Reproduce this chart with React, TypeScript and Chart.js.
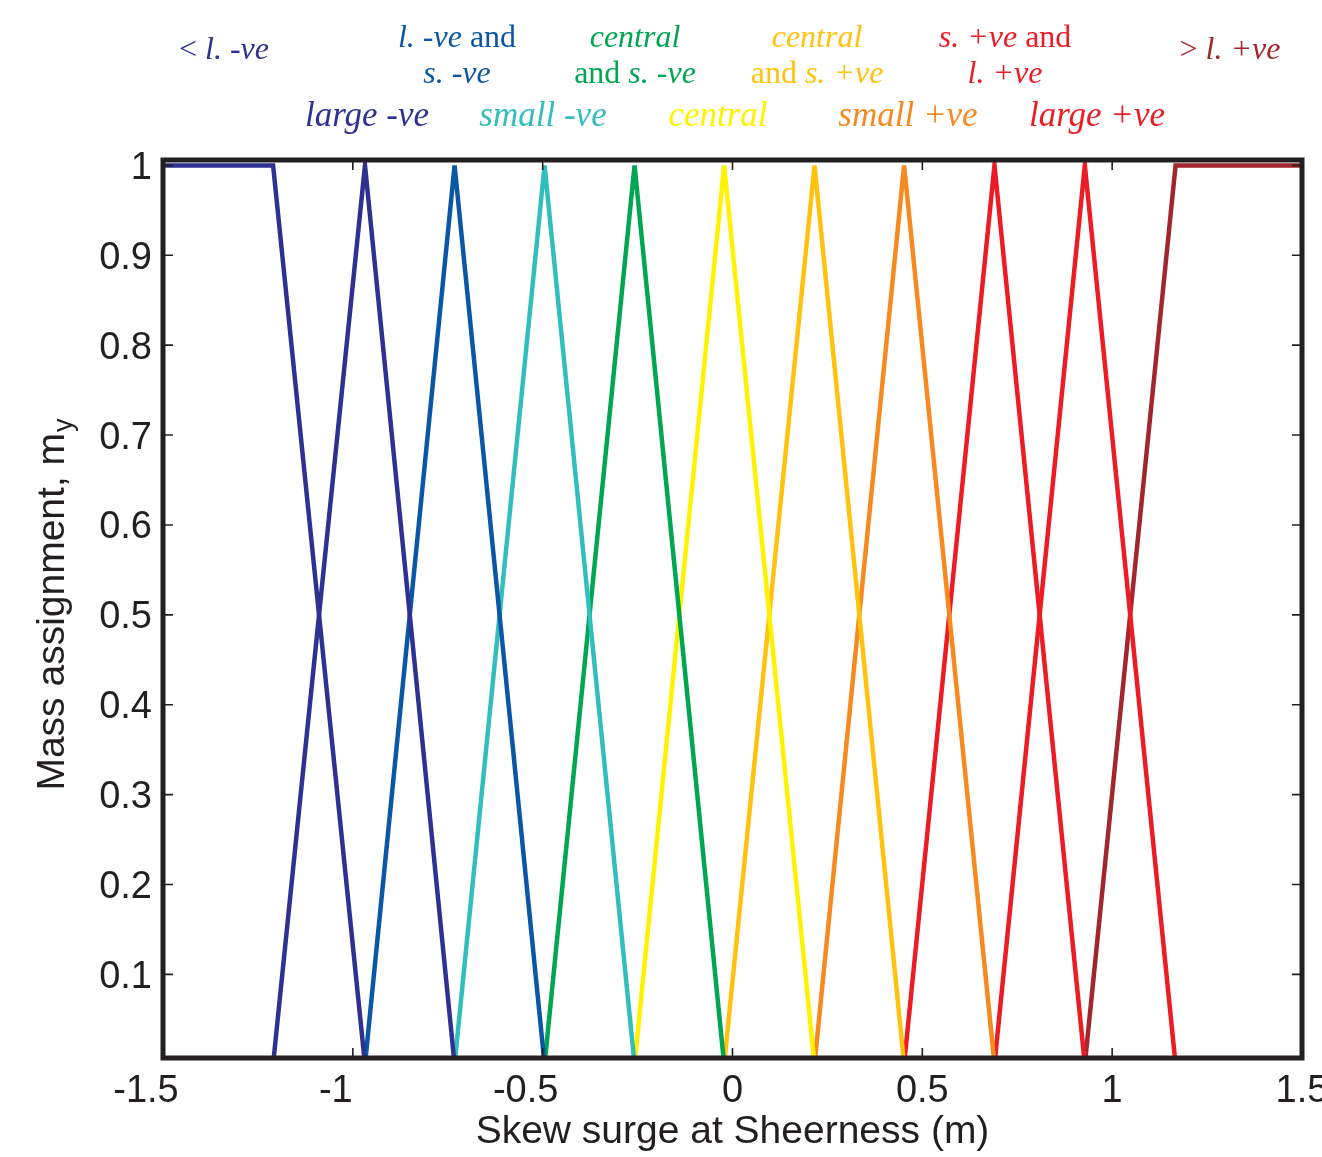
import React, { useEffect, useRef } from "react";
import { Chart, registerables } from "chart.js";

Chart.register(...registerables);

// Fuzzy sets for skew surge at Sheerness (m)
const setNames = [
  "< l. -ve",
  "large -ve",
  "l. -ve and s. -ve",
  "small -ve",
  "central and s. -ve",
  "central",
  "central and s. +ve",
  "small +ve",
  "s. +ve and l. +ve",
  "large +ve",
  "> l. +ve",
];

const setColors = [
  "#2E3192",
  "#2E3192",
  "#0B57A6",
  "#33BEBE",
  "#00A651",
  "#FFF200",
  "#FFC20E",
  "#F6891F",
  "#ED1C24",
  "#ED1C24",
  "#A1262D",
];

// Surge values (m) at which successive sets reach full membership
const breakpoints = [-1.21, -0.968, -0.732, -0.495, -0.258, -0.022, 0.216, 0.452, 0.69, 0.928, 1.167];

const xLimits = [-1.5, 1.5];
const yLimits = [0.007, 1.006];
const xTicks = [-1.5, -1, -0.5, 0, 0.5, 1, 1.5];
const yTicks = [0.1, 0.2, 0.3, 0.4, 0.5, 0.6, 0.7, 0.8, 0.9, 1];

const xTitle = "Skew surge at Sheerness (m)";
const yTitle = "Mass assignment, m";
const yTitleSub = "y";

// Header captions: each line is a list of [text, italic] runs
type Run = [string, boolean];
const headerCaptions: { set: number; cx: number; baselines: number[]; size: number; lines: Run[][] }[] = [
  { set: 0, cx: 224, baselines: [59], size: 32, lines: [[["< ", false], ["l. -ve", true]]] },
  { set: 2, cx: 457, baselines: [47, 83], size: 32, lines: [[["l. -ve ", true], ["and", false]], [["s. -ve", true]]] },
  { set: 4, cx: 635, baselines: [47, 83], size: 32, lines: [[["central", true]], [["and ", false], ["s. -ve", true]]] },
  { set: 6, cx: 817, baselines: [47, 83], size: 32, lines: [[["central", true]], [["and ", false], ["s. +ve", true]]] },
  { set: 8, cx: 1005, baselines: [47, 83], size: 32, lines: [[["s. +ve ", true], ["and", false]], [["l. +ve", true]]] },
  { set: 10, cx: 1230, baselines: [59], size: 32, lines: [[["> ", false], ["l. +ve", true]]] },
  { set: 1, cx: 367, baselines: [126], size: 35, lines: [[["large -ve", true]]] },
  { set: 3, cx: 543, baselines: [126], size: 35, lines: [[["small -ve", true]]] },
  { set: 5, cx: 718, baselines: [126], size: 35, lines: [[["central", true]]] },
  { set: 7, cx: 908, baselines: [126], size: 35, lines: [[["small +ve", true]]] },
  { set: 9, cx: 1097, baselines: [126], size: 35, lines: [[["large +ve", true]]] },
];

const INK = "#231F20";
const AXIS_FONT = '38px "Liberation Sans", Arial, sans-serif';
const TITLE_FONT = '39px "Liberation Sans", Arial, sans-serif';

function membershipPoints(i: number) {
  const last = breakpoints.length - 1;
  if (i === 0) {
    return [
      { x: xLimits[0], y: 1 },
      { x: breakpoints[0], y: 1 },
      { x: breakpoints[1], y: 0 },
    ];
  }
  if (i === last) {
    return [
      { x: breakpoints[last - 1], y: 0 },
      { x: breakpoints[last], y: 1 },
      { x: xLimits[1], y: 1 },
    ];
  }
  return [
    { x: breakpoints[i - 1], y: 0 },
    { x: breakpoints[i], y: 1 },
    { x: breakpoints[i + 1], y: 0 },
  ];
}

const fmt = (v: number) => String(v);

const framePlugin = {
  id: "matlabFrame",
  afterDatasetsDraw(chart: any) {
    const { ctx, chartArea: a, scales } = chart;
    const xs = scales.x;
    const ys = scales.y;
    ctx.save();
    ctx.strokeStyle = INK;
    ctx.lineWidth = 1.6;
    const tl = 10;
    ctx.beginPath();
    for (const v of xTicks) {
      const px = xs.getPixelForValue(v);
      ctx.moveTo(px, a.bottom);
      ctx.lineTo(px, a.bottom - tl);
      ctx.moveTo(px, a.top);
      ctx.lineTo(px, a.top + tl);
    }
    for (const v of yTicks) {
      const py = ys.getPixelForValue(v);
      ctx.moveTo(a.left, py);
      ctx.lineTo(a.left + tl, py);
      ctx.moveTo(a.right, py);
      ctx.lineTo(a.right - tl, py);
    }
    ctx.stroke();
    ctx.lineWidth = 5;
    ctx.lineJoin = "miter";
    ctx.strokeRect(a.left, a.top, a.right - a.left, a.bottom - a.top);
    ctx.restore();
  },
  afterDraw(chart: any) {
    const { ctx, chartArea: a, scales } = chart;
    const xs = scales.x;
    const ys = scales.y;
    ctx.save();
    ctx.fillStyle = INK;
    ctx.font = AXIS_FONT;
    ctx.textBaseline = "alphabetic";

    // x tick labels
    ctx.textAlign = "center";
    for (const v of xTicks) {
      const px = xs.getPixelForValue(v) + (v < 0 ? -17 : 0);
      ctx.fillText(fmt(v), px, a.bottom + 44);
    }
    // y tick labels
    ctx.textAlign = "right";
    for (const v of yTicks) {
      const py = ys.getPixelForValue(v);
      ctx.fillText(fmt(v), a.left - 11, py + 13.5);
    }
    // x title
    ctx.font = TITLE_FONT;
    ctx.textAlign = "center";
    ctx.fillText(xTitle, (a.left + a.right) / 2, a.bottom + 85);

    // y title with subscript
    const subFont = '27px "Liberation Sans", Arial, sans-serif';
    const mainW = ctx.measureText(yTitle).width;
    ctx.font = subFont;
    const subW = ctx.measureText(yTitleSub).width;
    const total = mainW + subW;
    ctx.translate(64, 605);
    ctx.rotate(-Math.PI / 2);
    ctx.textAlign = "left";
    ctx.font = TITLE_FONT;
    ctx.fillText(yTitle, -total / 2, 0);
    ctx.font = subFont;
    ctx.fillText(yTitleSub, -total / 2 + mainW + 1, 8);
    ctx.restore();

    // header captions for each set
    ctx.save();
    ctx.textBaseline = "alphabetic";
    ctx.textAlign = "left";
    for (const cap of headerCaptions) {
      ctx.fillStyle = setColors[cap.set];
      cap.lines.forEach((runs, li) => {
        const fonts = runs.map(
          ([, it]) => `${it ? "italic " : ""}${cap.size}px "Liberation Serif", "Times New Roman", serif`
        );
        let w = 0;
        runs.forEach(([t], k) => {
          ctx.font = fonts[k];
          w += ctx.measureText(t).width;
        });
        let x = cap.cx - w / 2;
        runs.forEach(([t], k) => {
          ctx.font = fonts[k];
          ctx.fillText(t, x, cap.baselines[li]);
          x += ctx.measureText(t).width;
        });
      });
    }
    ctx.restore();
  },
};

export default function App() {
  const canvasRef = useRef<HTMLCanvasElement | null>(null);

  useEffect(() => {
    const canvas = canvasRef.current;
    if (!canvas) return;
    const chart = new Chart(canvas, {
      type: "line",
      data: {
        datasets: setNames.map((name, i) => ({
          label: name,
          data: membershipPoints(i),
          borderColor: setColors[i],
          backgroundColor: setColors[i],
          borderWidth: 4.5,
          pointRadius: 0,
          fill: false,
          tension: 0,
        })),
      },
      options: {
        responsive: false,
        animation: false,
        devicePixelRatio: 1,
        layout: { padding: { top: 160, right: 20, left: 0, bottom: 0 } },
        plugins: {
          legend: { display: false },
          tooltip: { enabled: false },
        },
        scales: {
          x: {
            type: "linear",
            min: xLimits[0],
            max: xLimits[1],
            ticks: { display: false },
            grid: { display: false },
            border: { display: false },
            afterFit: (s: any) => {
              s.height = 99;
            },
          },
          y: {
            type: "linear",
            min: yLimits[0],
            max: yLimits[1],
            ticks: { display: false },
            grid: { display: false },
            border: { display: false },
            afterFit: (s: any) => {
              s.width = 163;
            },
          },
        },
      } as any,
      plugins: [framePlugin],
    });
    return () => chart.destroy();
  }, []);

  return (
    <div style={{ position: "fixed", left: 0, top: 0, width: 1322, height: 1157, background: "#fff" }}>
      <canvas ref={canvasRef} width={1322} height={1157} style={{ display: "block" }} />
    </div>
  );
}
